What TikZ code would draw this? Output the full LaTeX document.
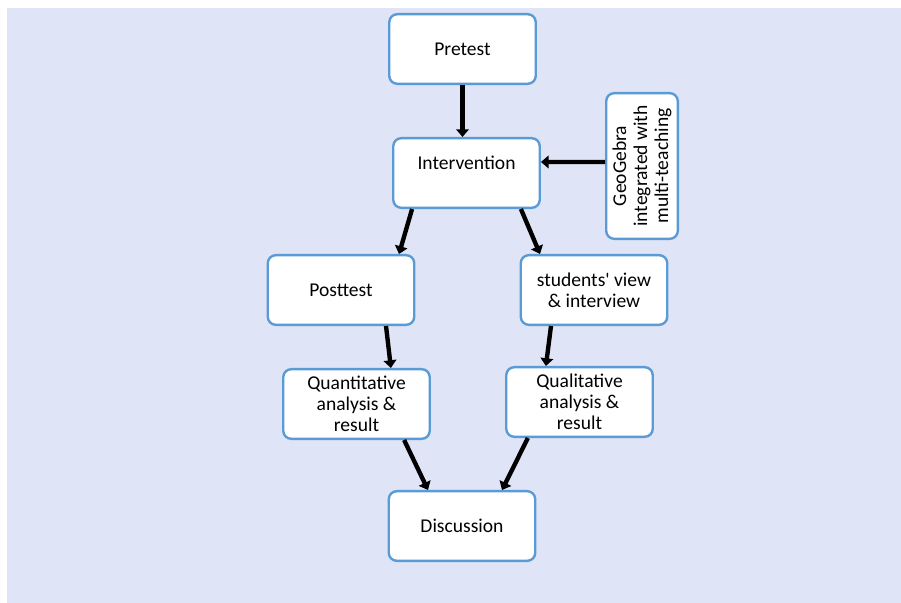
\documentclass[tikz,border=0pt]{standalone}
\usepackage{fontspec}
\setmainfont{Carlito}
\usepackage{tikz}
\usetikzlibrary{arrows.meta}
\definecolor{panel}{HTML}{DFE4F6}
\definecolor{boxline}{HTML}{5B9BD5}

\begin{document}
\begin{tikzpicture}[x=0.025cm, y=-0.025cm,
	  box/.style = {shape=rectangle, rounded corners=0.2cm,
	    draw=boxline, line width=1.7pt, fill=white, align=center,
	    minimum width=3.66cm, minimum height=1.74cm, inner sep=2pt,
	    font=\fontsize{13.9}{15}\selectfont},
	  flow/.style = {draw=black, line width=3.1pt,
	    -{Triangle[width=9pt,length=5.5pt]}}]
	  \useasboundingbox (0,0) rectangle (901,603);
	  \fill[panel] (7,8) rectangle (901,603);
	  % boxes
	  \node[box] (pre) at (462.5,49) {Pretest};
	  \node[box] (interv) at (466.5,173) {Intervention\\\mbox{}};
	  \node[box, rotate=90, minimum width=3.64cm, minimum height=1.79cm]
	    (geo) at (642,166) {GeoGebra\\integrated with\\multi-teaching};
	  \node[box] (post) at (341,290) {Posttest};
	  \node[box] (view) at (594,290) {students\textquotesingle{} view\\\& interview};
	  \node[box] (quant) at (356.5,404) {Quantitative\\analysis \&\\result};
	  \node[box] (qual) at (579.5,402) {Qualitative\\analysis \&\\result};
	  \node[box] (disc) at (462,526) {Discussion};
	  % arrows
	  \draw[flow] (pre.south) -- (pre.south |- interv.north);
	  \draw[flow] ([yshift=0.1cm]geo.north) -- ([yshift=0.275cm]interv.east);
	  \draw[flow] ([xshift=-1.36cm]interv.south) -- ([xshift=1.45cm]post.north);
	  \draw[flow] ([xshift=1.36cm]interv.south) -- ([xshift=-1.35cm]view.north);
	  \draw[flow] ([xshift=1.125cm]post.south) -- ([xshift=0.86cm]quant.north);
	  \draw[flow] ([xshift=-1.075cm]view.south) -- ([xshift=-0.84cm]qual.north);
	  \draw[flow] ([xshift=1.19cm]quant.south) -- ([xshift=-0.85cm]disc.north);
	  \draw[flow] ([xshift=-1.29cm]qual.south) -- ([xshift=1.0cm]disc.north);
	\end{tikzpicture}
\end{document}
